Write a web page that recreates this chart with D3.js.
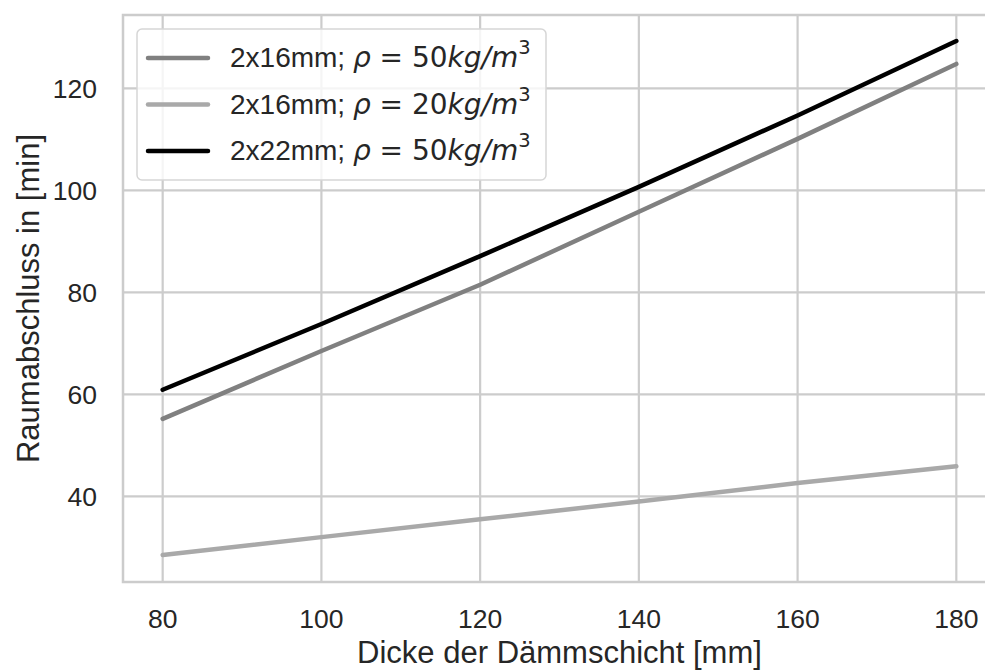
<!DOCTYPE html>
<html lang="de">
<head>
    <meta charset="UTF-8">
    <title>Raumabschluss vs. Dicke der Dämmschicht</title>
    <script src="https://d3js.org/d3.v7.min.js"></script>
    <style>
        body {
            margin: 0;
            background: white;
        }
        svg {
            display: block;
            overflow: hidden;
            font-family: "Liberation Sans", Arial, sans-serif;
        }
        .grid line {
            stroke: #cccccc;
            stroke-width: 2.2;
        }
        .spine {
            stroke: #cccccc;
            stroke-width: 2.5;
            fill: none;
        }
        .tick-label {
            font-size: 26.5px;
            fill: #262626;
        }
        .axis-label {
            font-size: 31px;
            fill: #262626;
        }
        .series {
            fill: none;
            stroke-width: 4.5;
            stroke-linecap: round;
            stroke-linejoin: round;
        }
        .legend-text {
            font-size: 28px;
            fill: #262626;
        }
        .math {
            font-family: "DejaVu Sans", sans-serif;
        }
    </style>
</head>
<body>
<svg id="chart" width="985" height="671"></svg>
<script>
    // Daten
    const dicke = [80, 100, 120, 140, 160, 180];
    const s16_50 = [55.2, 68.5, 81.5, 95.8, 110.1, 124.8];
    const s16_20 = [28.5, 32.0, 35.5, 39.0, 42.6, 45.9];
    const s22_50 = [60.9, 73.8, 87.1, 100.7, 114.7, 129.3];

    const xTicks = [80, 100, 120, 140, 160, 180];
    const yTicks = [40, 60, 80, 100, 120];

    const seriesList = [
        { name: "16", values: s16_50, color: "#808080", dens: "50" },
        { name: "16", values: s16_20, color: "#a9a9a9", dens: "20" },
        { name: "22", values: s22_50, color: "#000000", dens: "50" }
    ];

    const svg = d3.select("#chart");
    const mLeft = 123, mRight = 996, mTop = 15, mBottom = 582;

    const x = d3.scaleLinear().domain([75, 185]).range([mLeft, mRight]);
    const y = d3.scaleLinear().domain([23.2, 134.4]).range([mBottom, mTop]);

    // Gitter
    const grid = svg.append("g").attr("class", "grid");
    grid.selectAll(".gx").data(xTicks).enter().append("line")
        .attr("x1", d => x(d)).attr("x2", d => x(d))
        .attr("y1", mTop).attr("y2", mBottom);
    grid.selectAll(".gy").data(yTicks).enter().append("line")
        .attr("x1", mLeft).attr("x2", mRight)
        .attr("y1", d => y(d)).attr("y2", d => y(d));

    // Rahmen
    svg.append("rect")
        .attr("class", "spine")
        .attr("x", mLeft).attr("y", mTop)
        .attr("width", mRight - mLeft).attr("height", mBottom - mTop);

    // Achsenbeschriftungen
    svg.selectAll(".xt").data(xTicks).enter().append("text")
        .attr("class", "tick-label")
        .attr("x", d => x(d))
        .attr("y", 628)
        .attr("text-anchor", "middle")
        .text(d => d);

    svg.selectAll(".yt").data(yTicks).enter().append("text")
        .attr("class", "tick-label")
        .attr("x", 97)
        .attr("y", d => y(d))
        .attr("dy", "0.36em")
        .attr("text-anchor", "end")
        .text(d => d);

    svg.append("text")
        .attr("class", "axis-label")
        .attr("x", (mLeft + mRight) / 2)
        .attr("y", 663)
        .attr("text-anchor", "middle")
        .text("Dicke der Dämmschicht [mm]");

    svg.append("text")
        .attr("class", "axis-label")
        .attr("transform", `translate(39, ${(mTop + mBottom) / 2}) rotate(-90)`)
        .attr("text-anchor", "middle")
        .text("Raumabschluss in [min]");

    // Linien
    const line = d3.line()
        .x((d, i) => x(dicke[i]))
        .y(d => y(d));

    svg.selectAll(".series").data(seriesList).enter().append("path")
        .attr("class", "series")
        .attr("stroke", d => d.color)
        .attr("d", d => line(d.values));

    // Legende
    const legend = svg.append("g");
    legend.append("rect")
        .attr("x", 137).attr("y", 29)
        .attr("width", 409).attr("height", 151)
        .attr("rx", 5)
        .attr("fill", "white").attr("fill-opacity", 0.8)
        .attr("stroke", "#d6d6d6").attr("stroke-width", 1.5);

    seriesList.forEach((s, i) => {
        const ly = 58 + i * 46.5;
        legend.append("line")
            .attr("x1", 148).attr("x2", 208)
            .attr("y1", ly).attr("y2", ly)
            .attr("stroke", s.color)
            .attr("stroke-width", 4.5)
            .attr("stroke-linecap", "round");
        const t = legend.append("text")
            .attr("class", "legend-text")
            .attr("x", 230)
            .attr("y", ly + 9);
        t.append("tspan").text(`2x${s.name}mm; `);
        t.append("tspan").attr("class", "math").attr("font-style", "italic").text("ρ");
        t.append("tspan").attr("class", "math").text(` = ${s.dens}`);
        t.append("tspan").attr("class", "math").attr("font-style", "italic").text("kg/m");
        t.append("tspan").attr("class", "math")
            .attr("font-size", "19.5px")
            .attr("dy", -13)
            .text("3");
    });
</script>
</body>
</html>
